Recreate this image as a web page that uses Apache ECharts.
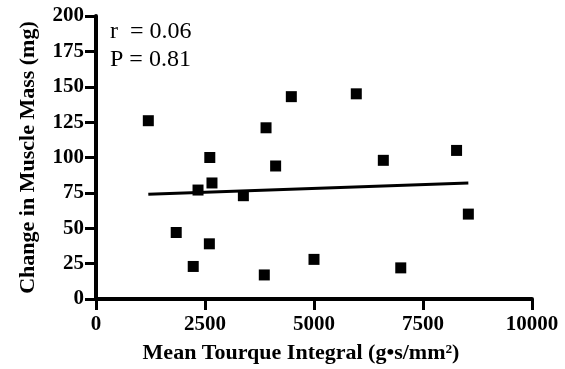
<!DOCTYPE html>
<html><head><meta charset="utf-8">
<script src="https://cdn.jsdelivr.net/npm/echarts@6/dist/echarts.min.js"></script>
<style>html,body{margin:0;padding:0;background:#fff}#c{width:565px;height:369px}</style>
</head><body><div id="c"></div>
<script>
const torque = [1200,1840,2230,2340,2610,2660,2600,3380,3900,3860,4120,4480,5970,6590,8270,8540,5000,6990];
const massChange = [126,47,23,77,100,82,39,73,121,17,94,143,145,98,105,60,28,22];
const fitX = [1200,8540];
const fitY = [74,82];
const xTicks = [0,2500,5000,7500,10000];
const yTicks = [0,25,50,75,100,125,150,175,200];
const statsText = ['r  = 0.06','P = 0.81'];

const font = '"Liberation Serif", "Times New Roman", serif';
const chart = echarts.init(document.getElementById('c'));
chart.setOption({
  animation:false,
  grid:{left:96,right:33,top:16,bottom:68},
  xAxis:{type:'value',min:xTicks[0],max:xTicks[xTicks.length-1],interval:2500,
    name:'Mean Tourque Integral (g•s/mm²)',nameLocation:'middle',nameGap:43,
    nameTextStyle:{fontFamily:font,fontWeight:'bold',fontSize:22,color:'#000',padding:[0,26,0,0]},
    axisLine:{show:true,lineStyle:{color:'#000',width:4}},
    axisTick:{show:true,length:11,lineStyle:{color:'#000',width:3}},
    axisLabel:{fontFamily:font,fontWeight:'bold',fontSize:21,color:'#000',margin:15,
      formatter:v=>String(v)},
    splitLine:{show:false}},
  yAxis:{type:'value',min:yTicks[0],max:yTicks[yTicks.length-1],interval:25,
    name:'Change in Muscle Mass (mg)',nameLocation:'middle',nameGap:57,nameRotate:90,
    nameTextStyle:{fontFamily:font,fontWeight:'bold',fontSize:22,color:'#000'},
    axisLine:{show:true,lineStyle:{color:'#000',width:4}},
    axisTick:{show:true,length:11,lineStyle:{color:'#000',width:3}},
    axisLabel:{fontFamily:font,fontWeight:'bold',fontSize:21,color:'#000',margin:12,
      formatter:v=>String(v)},
    splitLine:{show:false}},
  series:[
    {type:'scatter',symbol:'rect',symbolSize:11,itemStyle:{color:'#000',opacity:1},
     data:torque.map((x,i)=>[x,massChange[i]])},
    {type:'line',symbol:'none',lineStyle:{color:'#000',width:3},
     data:fitX.map((x,i)=>[x,fitY[i]])}
  ],
  graphic:[
    {type:'text',left:110,top:18,style:{text:statsText.join('\n'),font:'24px '+font,fill:'#000',lineHeight:28}}
  ]
});
</script></body></html>
